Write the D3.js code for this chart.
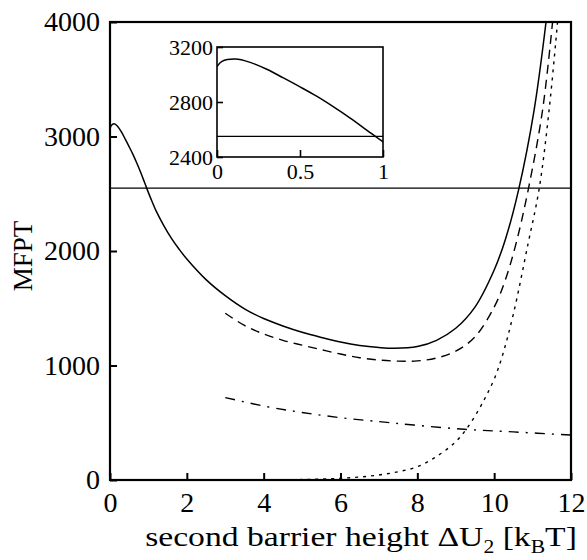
<!DOCTYPE html>
<html>
<head>
<meta charset="utf-8">
<script src="https://cdn.jsdelivr.net/npm/d3@7/dist/d3.min.js"></script>
<style>
  html, body { margin: 0; padding: 0; background: #fff; }
  svg { display: block; }
  text { font-family: "Liberation Serif", "Times New Roman", "DejaVu Serif", serif; fill: #000; }
</style>
</head>
<body>
<svg id="chart" width="587" height="560"></svg>
<script>
// ---------------- data ----------------
const xTicks = [0, 2, 4, 6, 8, 10, 12];
const yTicks = [0, 1000, 2000, 3000, 4000];
const insetXTicks = [0, 0.5, 1];
const insetXTickLabels = ["0", "0.5", "1"];
const insetYTicks = [2400, 2800, 3200];

const hLineValue = 2550;

const solidX = [0, 0.03, 0.11, 0.2, 0.3, 0.4, 0.5, 0.6, 0.7, 0.8, 0.9, 1.0, 1.1, 1.2, 1.4, 1.6, 1.8, 2.0, 2.5, 3.0, 3.5, 4.0, 4.5, 5.0, 5.5, 6.0, 6.5, 7.0, 7.4, 8.0, 8.5, 9.0, 9.5, 10.0, 10.3, 10.64, 11.04, 11.35];
const solidY = [3058, 3095, 3112, 3088, 3038, 2975, 2910, 2842, 2766, 2685, 2598, 2510, 2428, 2350, 2222, 2110, 2015, 1930, 1750, 1610, 1495, 1410, 1345, 1290, 1245, 1205, 1175, 1157, 1150, 1165, 1220, 1325, 1510, 1834, 2110, 2541, 3231, 4000];

const dashedX = [3.0, 3.5, 4.0, 4.5, 5.0, 5.5, 6.0, 6.5, 7.0, 7.5, 8.0, 8.5, 9.0, 9.5, 10.0, 10.26, 10.55, 10.89, 11.26, 11.52];
const dashedY = [1456, 1350, 1275, 1220, 1178, 1138, 1100, 1068, 1048, 1038, 1040, 1065, 1125, 1250, 1510, 1718, 2040, 2541, 3231, 4000];

const dottedX = [4.3, 5.0, 5.5, 6.0, 6.5, 7.0, 7.5, 8.0, 8.5, 9.0, 9.3, 9.6, 9.8, 10.0, 10.2, 10.5, 10.88, 11.17, 11.43, 11.65];
const dottedY = [0, 4, 8, 15, 26, 44, 72, 116, 205, 335, 455, 615, 740, 880, 1070, 1450, 2060, 2541, 3231, 4000];

const dashDotX = [3.0, 4.09, 5.0, 6.0, 7.0, 7.91, 9.22, 10.5, 12];
const dashDotY = [720, 640, 590, 544, 510, 480, 443, 420, 393];

// ---------------- layout ----------------
const svg = d3.select("#chart");
const M = { left: 110, right: 571, top: 22, bottom: 480 };
const x = d3.scaleLinear().domain([0, 12]).range([M.left, M.right]);
const y = d3.scaleLinear().domain([0, 4000]).range([M.bottom, M.top]);

const I = { left: 217, right: 383, top: 47, bottom: 157 };
const xi = d3.scaleLinear().domain([0, 1]).range([I.left, I.right]);
const yi = d3.scaleLinear().domain([2400, 3200]).range([I.bottom, I.top]);

const zip = (xs, ys) => xs.map((v, i) => [v, ys[i]]);

const defs = svg.append("defs");
defs.append("clipPath").attr("id", "clipMain").append("rect")
  .attr("x", M.left).attr("y", M.top).attr("width", M.right - M.left).attr("height", M.bottom - M.top);
defs.append("clipPath").attr("id", "clipInset").append("rect")
  .attr("x", I.left).attr("y", I.top).attr("width", I.right - I.left).attr("height", I.bottom - I.top);

const curve = d3.curveCatmullRom.alpha(0.5);
const line = d3.line().x(d => x(d[0])).y(d => y(d[1])).curve(curve);
const lineI = d3.line().x(d => xi(d[0])).y(d => yi(d[1])).curve(curve);

const gMain = svg.append("g").attr("clip-path", "url(#clipMain)");

gMain.append("path")
  .attr("d", line([[0, hLineValue], [12, hLineValue]]))
  .attr("fill", "none").attr("stroke", "#000").attr("stroke-width", 1.3);

gMain.append("path").attr("d", line(zip(solidX, solidY)))
  .attr("fill", "none").attr("stroke", "#000").attr("stroke-width", 1.5);
gMain.append("path").attr("d", line(zip(dashedX, dashedY)))
  .attr("fill", "none").attr("stroke", "#000").attr("stroke-width", 1.4)
  .attr("stroke-dasharray", "9,6");
gMain.append("path").attr("d", line(zip(dottedX, dottedY)))
  .attr("fill", "none").attr("stroke", "#000").attr("stroke-width", 1.4)
  .attr("stroke-dasharray", "3,5");
gMain.append("path").attr("d", line(zip(dashDotX, dashDotY)))
  .attr("fill", "none").attr("stroke", "#000").attr("stroke-width", 1.4)
  .attr("stroke-dasharray", "10,7,2,7");

const FONT = '"Liberation Serif", "Times New Roman", "DejaVu Serif", serif';

const xAxis = d3.axisBottom(x).tickValues(xTicks).tickFormat(d3.format("d")).tickSize(-7).tickPadding(12);
const yAxis = d3.axisLeft(y).tickValues(yTicks).tickFormat(d3.format("d")).tickSize(-7).tickPadding(10);

const gx = svg.append("g").attr("transform", `translate(0,${M.bottom})`).call(xAxis);
const gy = svg.append("g").attr("transform", `translate(${M.left},0)`).call(yAxis);
[gx, gy].forEach(g => {
  g.attr("font-family", null);
  g.select(".domain").remove();
  g.selectAll(".tick line").attr("stroke", "#000").attr("stroke-width", 2);
  g.selectAll(".tick text").style("font-family", FONT).style("font-size", "28px").attr("fill", "#000");
});
gx.selectAll(".tick text").attr("dy", "0.71em");

svg.append("rect")
  .attr("x", M.left).attr("y", M.top).attr("width", M.right - M.left).attr("height", M.bottom - M.top)
  .attr("fill", "none").attr("stroke", "#000").attr("stroke-width", 2.2);

svg.append("text")
  .attr("transform", `translate(32,256) rotate(-90)`)
  .attr("text-anchor", "middle")
  .style("font-family", FONT)
  .style("font-size", "27px")
  .text("MFPT");

const xlCenter = 361;
const xl = svg.append("text")
  .attr("x", xlCenter).attr("y", 546)
  .attr("text-anchor", "middle")
  .style("font-family", FONT)
  .style("font-size", "28px");
xl.append("tspan").text("second barrier height \u0394U");
xl.append("tspan").attr("dy", 7).style("font-size", "18px").text("2");
xl.append("tspan").attr("dy", -7).text(" [k");
xl.append("tspan").attr("dy", 7).style("font-size", "18px").text("B");
xl.append("tspan").attr("dy", -7).text("T]");
const xlW = xl.node().getBBox().width;
const xlScale = 432 / xlW;
xl.attr("transform", `translate(${xlCenter},0) scale(${xlScale},1) translate(${-xlCenter},0)`);

// ---------------- inset ----------------
svg.append("rect")
  .attr("x", I.left).attr("y", I.top).attr("width", I.right - I.left).attr("height", I.bottom - I.top)
  .attr("fill", "#fff").attr("stroke", "none");

const gIn = svg.append("g").attr("clip-path", "url(#clipInset)");
gIn.append("path").attr("d", lineI([[0, hLineValue], [1, hLineValue]]))
  .attr("fill", "none").attr("stroke", "#000").attr("stroke-width", 1.3);
gIn.append("path").attr("d", lineI(zip(solidX, solidY).filter(d => d[0] <= 1.2)))
  .attr("fill", "none").attr("stroke", "#000").attr("stroke-width", 1.5);

const xiAxis = d3.axisBottom(xi).tickValues(insetXTicks)
  .tickFormat((d, i) => insetXTickLabels[i]).tickSize(-7).tickPadding(6);
const yiAxis = d3.axisLeft(yi).tickValues(insetYTicks).tickFormat(d3.format("d")).tickSize(-6).tickPadding(4);
const gxi = svg.append("g").attr("transform", `translate(0,${I.bottom})`).call(xiAxis);
const gyi = svg.append("g").attr("transform", `translate(${I.left},0)`).call(yiAxis);
[gxi, gyi].forEach(g => {
  g.attr("font-family", null);
  g.select(".domain").remove();
  g.selectAll(".tick line").attr("stroke", "#000").attr("stroke-width", 1.6);
  g.selectAll(".tick text").style("font-family", FONT).style("font-size", "22px").attr("fill", "#000");
});
gxi.selectAll(".tick text").attr("dy", "0.71em");

svg.append("rect")
  .attr("x", I.left).attr("y", I.top).attr("width", I.right - I.left).attr("height", I.bottom - I.top)
  .attr("fill", "none").attr("stroke", "#000").attr("stroke-width", 1.6);
</script>
</body>
</html>
